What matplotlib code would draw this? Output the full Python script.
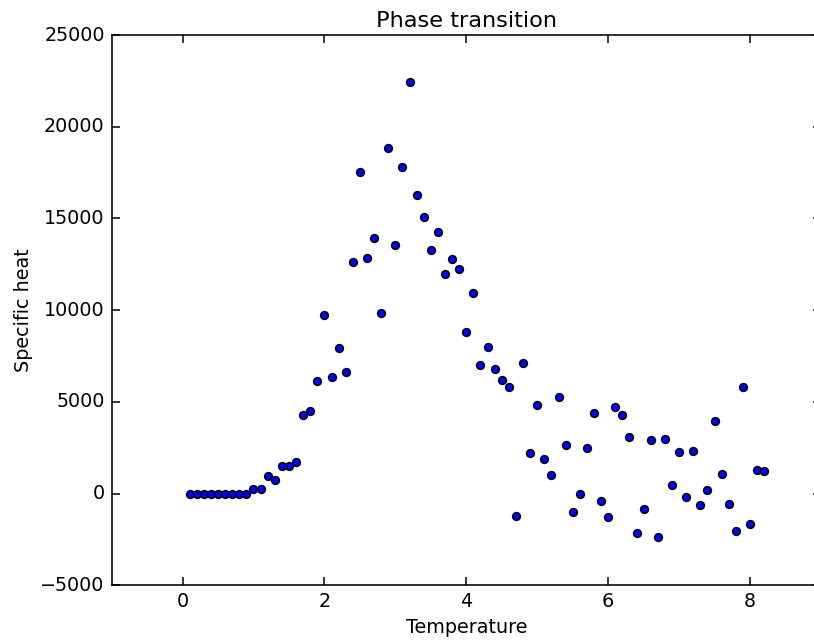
import matplotlib
matplotlib.use("Agg")
import matplotlib.pyplot as plt
import numpy as np

plt.style.use("classic")
plt.rcParams["font.family"] = ["DejaVu Sans"]

temperature = [0.1, 0.2, 0.3, 0.4, 0.5, 0.6, 0.7, 0.8, 0.9, 1.0,
               1.1, 1.2, 1.3, 1.4, 1.5, 1.6, 1.7, 1.8, 1.9, 2.0,
               2.1, 2.2, 2.3, 2.4, 2.5, 2.6, 2.7, 2.8, 2.9, 3.0,
               3.1, 3.2, 3.3, 3.4, 3.5, 3.6, 3.7, 3.8, 3.9, 4.0,
               4.1, 4.2, 4.3, 4.4, 4.5, 4.6, 4.7, 4.8, 4.9, 5.0,
               5.1, 5.2, 5.3, 5.4, 5.5, 5.6, 5.7, 5.8, 5.9, 6.0,
               6.1, 6.2, 6.3, 6.4, 6.5, 6.6, 6.7, 6.8, 6.9, 7.0,
               7.1, 7.2, 7.3, 7.4, 7.5, 7.6, 7.7, 7.8, 7.9, 8.0,
               8.1, 8.2]
specific_heat = [0, 0, 0, 0, 0, 0, 0, 0, 0, 270,
                 270, 966, 764, 1528, 1528, 1730, 4296, 4531, 6114, 9738,
                 6370, 7937, 6605, 12650, 17560, 12850, 13920, 9864, 18816, 13537,
                 17817, 22434, 16304, 15104, 13302, 14247, 11992, 12795, 12250, 8788,
                 10917, 6987, 7991, 6807, 6168, 5786, -1217, 7118, 2222, 4858,
                 1894, 1021, 5240, 2675, -983, -40, 2478, 4410, -415, -1288,
                 4733, 4296, 3095, -2145, -852, 2915, -2347, 2986, 475, 2276,
                 -164, 2347, -600, 218, 3985, 1075, -546, -2036, 5808, -1654,
                 1277, 1223]

title = "Phase transition"
xlabel = "Temperature"
ylabel = "Specific heat"

fig = plt.figure(figsize=(8.14, 6.44), dpi=100, facecolor="white")
ax = fig.add_axes([0.1371, 0.0911, 0.8715, 0.8545])
ax.plot(temperature, specific_heat, linestyle="none", marker="o",
        markerfacecolor="#0000ff", markeredgecolor="black",
        markeredgewidth=1.1, markersize=5.6)
ax.set_xlim(-1, 9)
ax.set_ylim(-5000, 25000)
ax.set_xticks([0, 2, 4, 6, 8])
ax.set_yticks([-5000, 0, 5000, 10000, 15000, 20000, 25000])
ax.tick_params(labelsize=13.8, length=5.5, width=1.1, pad=5)
for s in ax.spines.values():
    s.set_linewidth(1.15)
ax.set_title(title, fontsize=16.2, pad=6)
ax.set_xlabel(xlabel, fontsize=13.8)
ax.set_ylabel(ylabel, fontsize=13.8)

fig.savefig("out.png", dpi=100, facecolor="white")
